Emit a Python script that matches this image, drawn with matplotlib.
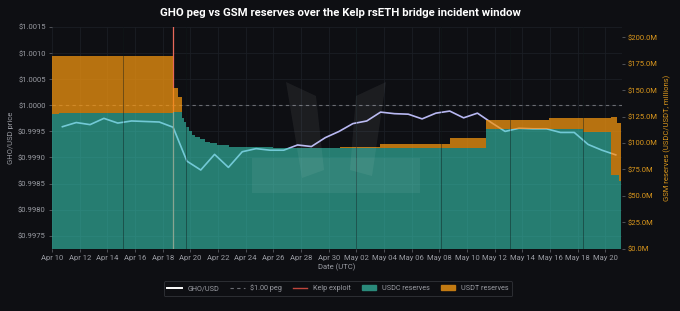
import numpy as np
import pandas as pd
import matplotlib
matplotlib.use("Agg")
import matplotlib.pyplot as plt
import matplotlib.dates as mdates
from matplotlib.lines import Line2D
from matplotlib.patches import Patch, Polygon
from matplotlib.ticker import FuncFormatter, MultipleLocator

plt.rcParams['font.family'] = ['Roboto', 'DejaVu Sans']

BG = '#0e0f13'
TEAL = '#3ad8c0'
ORANGE = '#f4950f'
LINE = '#b8b8f2'
GREY = '#9a9ca3'

# daily GHO/USD price
gho_dates = pd.date_range('2025-04-10 18:00', '2025-05-20 18:00', freq='D')
gho_price = [0.99959, 0.99967, 0.99963, 0.99975, 0.99966, 0.99970, 0.99969, 0.99968,
             0.99958, 0.99893, 0.99876, 0.99906, 0.99881, 0.99911, 0.99917, 0.99914,
             0.99914, 0.99924, 0.99921, 0.99938, 0.99950, 0.99965, 0.99970, 0.99987,
             0.99984, 0.99983, 0.99974, 0.99985, 0.99989, 0.99976, 0.99985, 0.99967,
             0.99950, 0.99956, 0.99955, 0.99955, 0.99948, 0.99948, 0.99925, 0.99914,
             0.99905]

# GSM reserve changes (days after Apr 10 00:00 UTC), in $M
res_days = [0, 0.5, 8.78, 9.1, 9.4, 9.55, 9.7, 9.88, 10.12, 10.36, 10.72, 11.08,
            11.44, 11.93, 12.77, 16.0, 20.8, 21.55, 23.7, 28.8, 31.4, 35.9, 38.4,
            40.4, 40.85, 40.98, 41.15]
usdc = [127.5, 128.8, 129.0, 129.0, 124.0, 120.0, 115.0, 111.0, 108.0, 105.5, 103.6, 101.4,
        100.0, 98.5, 96.5, 95.5, 95.2, 95.2, 95.2, 95.2, 113.0, 113.0, 110.5,
        70.0, 70.0, 64.0, 64.0]
usdt = [54.5, 53.2, 23.0, 15.0, 0, 0, 0, 0, 0, 0, 0, 0,
        0, 0, 0, 0, 0.8, 1.5, 3.5, 9.3, 8.5, 11.0, 13.5,
        55.0, 49.0, 55.0, 55.0]

exploit_time = pd.Timestamp('2025-04-18 18:30')
seam_days = [5.1, 9.66, 22.0, 28.1, 33.1, 38.35]

t0 = pd.Timestamp('2025-04-10')
res_t = [t0 + pd.Timedelta(days=d) for d in res_days]
usdc = np.array(usdc)
total = usdc + np.array(usdt)

fig = plt.figure(figsize=(6.8, 3.11), dpi=100, facecolor=BG)
ax = fig.add_axes([0.0765, 0.20, 0.838, 0.713])
ax.set_facecolor(BG)
ax2 = ax.twinx()

# price + references on the left axis
ax.plot(gho_dates, gho_price, color=LINE, lw=1.2, zorder=3)
ax.axhline(1.0, color='#6a6c72', lw=0.8, ls=(0, (3, 3)), zorder=2)
ax.axvline(exploit_time, color='#e8685a', lw=0.9, zorder=3)
ax.set_ylim(0.99725, 1.0015)
ax.yaxis.set_major_locator(MultipleLocator(0.0005))
ax.yaxis.set_major_formatter(FuncFormatter(lambda v, p: '${:.4f}'.format(v)))
ax.set_ylabel('GHO/USD price', color=GREY, fontsize=5.5, labelpad=3)
ax.set_xlabel('Date (UTC)', color=GREY, fontsize=5.5, labelpad=2)
ax.grid(True, color='#1b1e24', lw=0.6)
ax.set_axisbelow(True)

# reserves stacked on the right axis, drawn over the price line
ax2.fill_between(res_t, 0, usdc, step='post', color=TEAL, alpha=0.55, lw=0)
ax2.fill_between(res_t, usdc, total, step='post', color=ORANGE, alpha=0.74, lw=0)
for d in seam_days:
    ax2.axvline(t0 + pd.Timedelta(days=d), color='#0e1a1a', lw=0.6, alpha=0.5)
ax2.set_ylim(0, 209.7)
ax2.yaxis.set_major_locator(MultipleLocator(25))
ax2.yaxis.set_major_formatter(FuncFormatter(lambda v, p: '${:.1f}M'.format(v)))
ax2.set_ylabel('GSM reserves (USDC/USDT, millions)', color='#d9961c', fontsize=5.5, labelpad=4)

ax.set_xlim(t0, t0 + pd.Timedelta(days=41.19))
ax.set_xticks(pd.date_range('2025-04-10', '2025-05-20', freq='2D'))
ax.xaxis.set_major_formatter(mdates.DateFormatter('%b %d'))

for a in (ax, ax2):
    for s in a.spines.values():
        s.set_visible(False)
ax.tick_params(axis='both', colors='#5a5c62', labelcolor=GREY, labelsize=5.5, length=2.5, width=0.6, pad=2)
ax2.tick_params(axis='y', colors='#5a5c62', labelcolor='#d9961c', labelsize=5.5, length=2.5, width=0.6, pad=2)

# faint watermark logo
W, H = 680.0, 311.0
logo = [[(286, 82), (316, 96), (324, 170), (302, 178)],
        [(386, 82), (356, 96), (350, 170), (372, 176)],
        [(252, 158), (420, 158), (420, 193), (252, 193)]]
for shape in logo:
    pts = [(x / W, 1 - y / H) for x, y in shape]
    fig.patches.append(Polygon(pts, closed=True, transform=fig.transFigure,
                               facecolor='white', alpha=0.06, lw=0, zorder=5))

fig.suptitle('GHO peg vs GSM reserves over the Kelp rsETH bridge incident window',
             color='white', fontsize=8.2, fontweight='semibold', y=0.975)

handles = [Line2D([], [], color='white', lw=1.4),
           Line2D([], [], color='#6a6c72', lw=0.8, ls=(0, (3, 3))),
           Line2D([], [], color='#c0463c', lw=1.0),
           Patch(color='#2a8a7b'),
           Patch(color='#c27a12')]
labels = ['GHO/USD', '$1.00 peg', 'Kelp exploit', 'USDC reserves', 'USDT reserves']
leg = fig.legend(handles, labels, loc='center', bbox_to_anchor=(0.497, 0.072), ncol=5,
                 fontsize=5.2, frameon=True, facecolor=BG, edgecolor='#3a3c42',
                 labelcolor=GREY, handlelength=2.0, columnspacing=1.5, borderpad=0.5)
leg.get_frame().set_linewidth(0.6)

fig.savefig('out.png', dpi=100, facecolor=BG)
